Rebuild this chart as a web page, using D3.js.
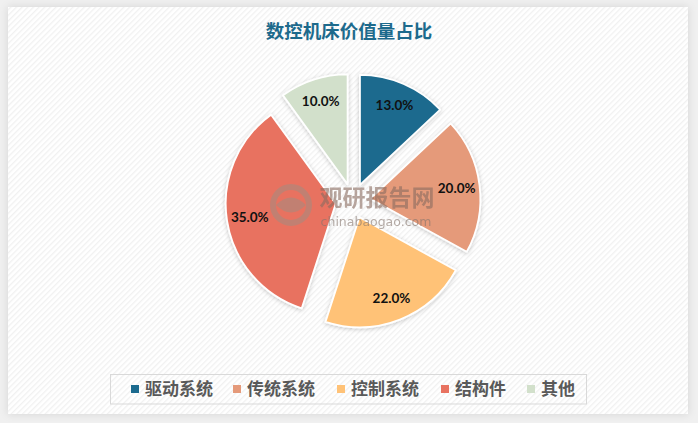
<!DOCTYPE html>
<html><head><meta charset="utf-8">
<script src="https://cdn.jsdelivr.net/npm/d3@7/dist/d3.min.js"></script>
<style>
html,body{margin:0;padding:0;background:#f0f0f0;}
svg{display:block;}
</style></head>
<body>
<svg id="chart" width="698" height="423"></svg>
<script>
const title = "数控机床价值量占比";
const categories = ["驱动系统", "传统系统", "控制系统", "结构件", "其他"];
const values = [13.0, 20.0, 22.0, 35.0, 10.0];
const colors = ["#1B6A8E", "#E59A7A", "#FFC277", "#E87260", "#D2E0CB"];

const svg = d3.select("#chart");
const defs = svg.append("defs");

const pat = defs.append("pattern").attr("id","stripes").attr("patternUnits","userSpaceOnUse")
  .attr("width",4).attr("height",4).attr("patternTransform","rotate(45)");
pat.append("rect").attr("width",4).attr("height",4).attr("fill","#ffffff");
pat.append("rect").attr("width",1.3).attr("height",4).attr("fill","#f1f1f1");

const sh = defs.append("filter").attr("id","panelShadow").attr("x","-5%").attr("y","-5%").attr("width","110%").attr("height","110%");
sh.append("feDropShadow").attr("dx",0).attr("dy",0).attr("stdDeviation",4).attr("flood-color","#000").attr("flood-opacity",0.12);

const ss = defs.append("filter").attr("id","sliceShadow").attr("x","-20%").attr("y","-20%").attr("width","140%").attr("height","140%");
ss.append("feDropShadow").attr("dx",0).attr("dy",1).attr("stdDeviation",2).attr("flood-color","#000").attr("flood-opacity",0.22);

// panel
svg.append("rect").attr("x",8).attr("y",7).attr("width",680).attr("height",407)
  .attr("fill","#fff").attr("filter","url(#panelShadow)");
svg.append("rect").attr("x",8).attr("y",7).attr("width",680).attr("height",407)
  .attr("fill","url(#stripes)");

// title
svg.append("text").attr("x",349).attr("y",38).attr("text-anchor","middle")
  .attr("font-family","'Noto Sans CJK SC', sans-serif").attr("font-weight","bold")
  .attr("font-size",18.5).attr("fill","#1D6A8C").text(title);

// pie
const cx = 353, cy = 201, r = 110, explode = 17.5;
const pie = d3.pie().sort(null).value(d => d);
const arcs = pie(values);
const arc = d3.arc().innerRadius(0).outerRadius(r);
const g = svg.append("g").attr("transform",`translate(${cx},${cy})`);

const sl = g.selectAll("g.slice").data(arcs).enter().append("g").attr("class","slice")
  .attr("transform", d => {
    const a = (d.startAngle + d.endAngle)/2;
    return `translate(${Math.sin(a)*explode},${-Math.cos(a)*explode})`;
  });
sl.append("path").attr("d", arc).attr("fill",(d,i)=>colors[i])
  .attr("stroke","#fff").attr("stroke-width",1.8).attr("stroke-linejoin","round")
  .attr("filter","url(#sliceShadow)");

// watermark
const wm = svg.append("g").attr("opacity",0.6);
wm.append("circle").attr("cx",291).attr("cy",205).attr("r",18).attr("fill","none").attr("stroke","#a88a7e").attr("stroke-width",6);
wm.append("path").attr("d","M276,205 Q291,190 306,205 Q291,220 276,205Z").attr("fill","#a88a7e");
wm.append("text").attr("x",377).attr("y",206).attr("text-anchor","middle")
  .attr("font-family","'Noto Sans CJK SC', sans-serif").attr("font-weight","bold")
  .attr("font-size",23).attr("fill","#8a6c60").text("观研报告网");
wm.append("text").attr("x",376).attr("y",226).attr("text-anchor","middle")
  .attr("font-family","'DejaVu Sans', sans-serif")
  .attr("font-size",12.5).attr("fill","#85756d").text("chinabaogao.com");

// labels
const lr = 87;
sl.append("text")
  .attr("x", d => Math.sin((d.startAngle+d.endAngle)/2)*lr)
  .attr("y", d => -Math.cos((d.startAngle+d.endAngle)/2)*lr)
  .attr("dy","0.35em").attr("text-anchor","middle")
  .attr("font-family","Lato, 'Open Sans', sans-serif").attr("font-weight","bold")
  .attr("font-size",13.5).attr("fill","#111")
  .text(d => d3.format(".1f")(d.data) + "%");

// legend
svg.append("rect").attr("x",110.5).attr("y",374.5).attr("width",476).attr("height",29.5)
  .attr("fill","none").attr("stroke","#d9d9d9").attr("stroke-width",1);
const markerX = [131, 233, 337, 441, 527];
const lg = svg.append("g");
categories.forEach((c,i)=>{
  lg.append("rect").attr("x",markerX[i]).attr("y",385).attr("width",8).attr("height",8).attr("fill",colors[i]);
  lg.append("text").attr("x",markerX[i]+14).attr("y",389).attr("dy","0.36em")
    .attr("font-family","'Noto Sans CJK SC', sans-serif").attr("font-weight","bold")
    .attr("font-size",17).attr("fill","#595959").text(c);
});
</script>
</body></html>
